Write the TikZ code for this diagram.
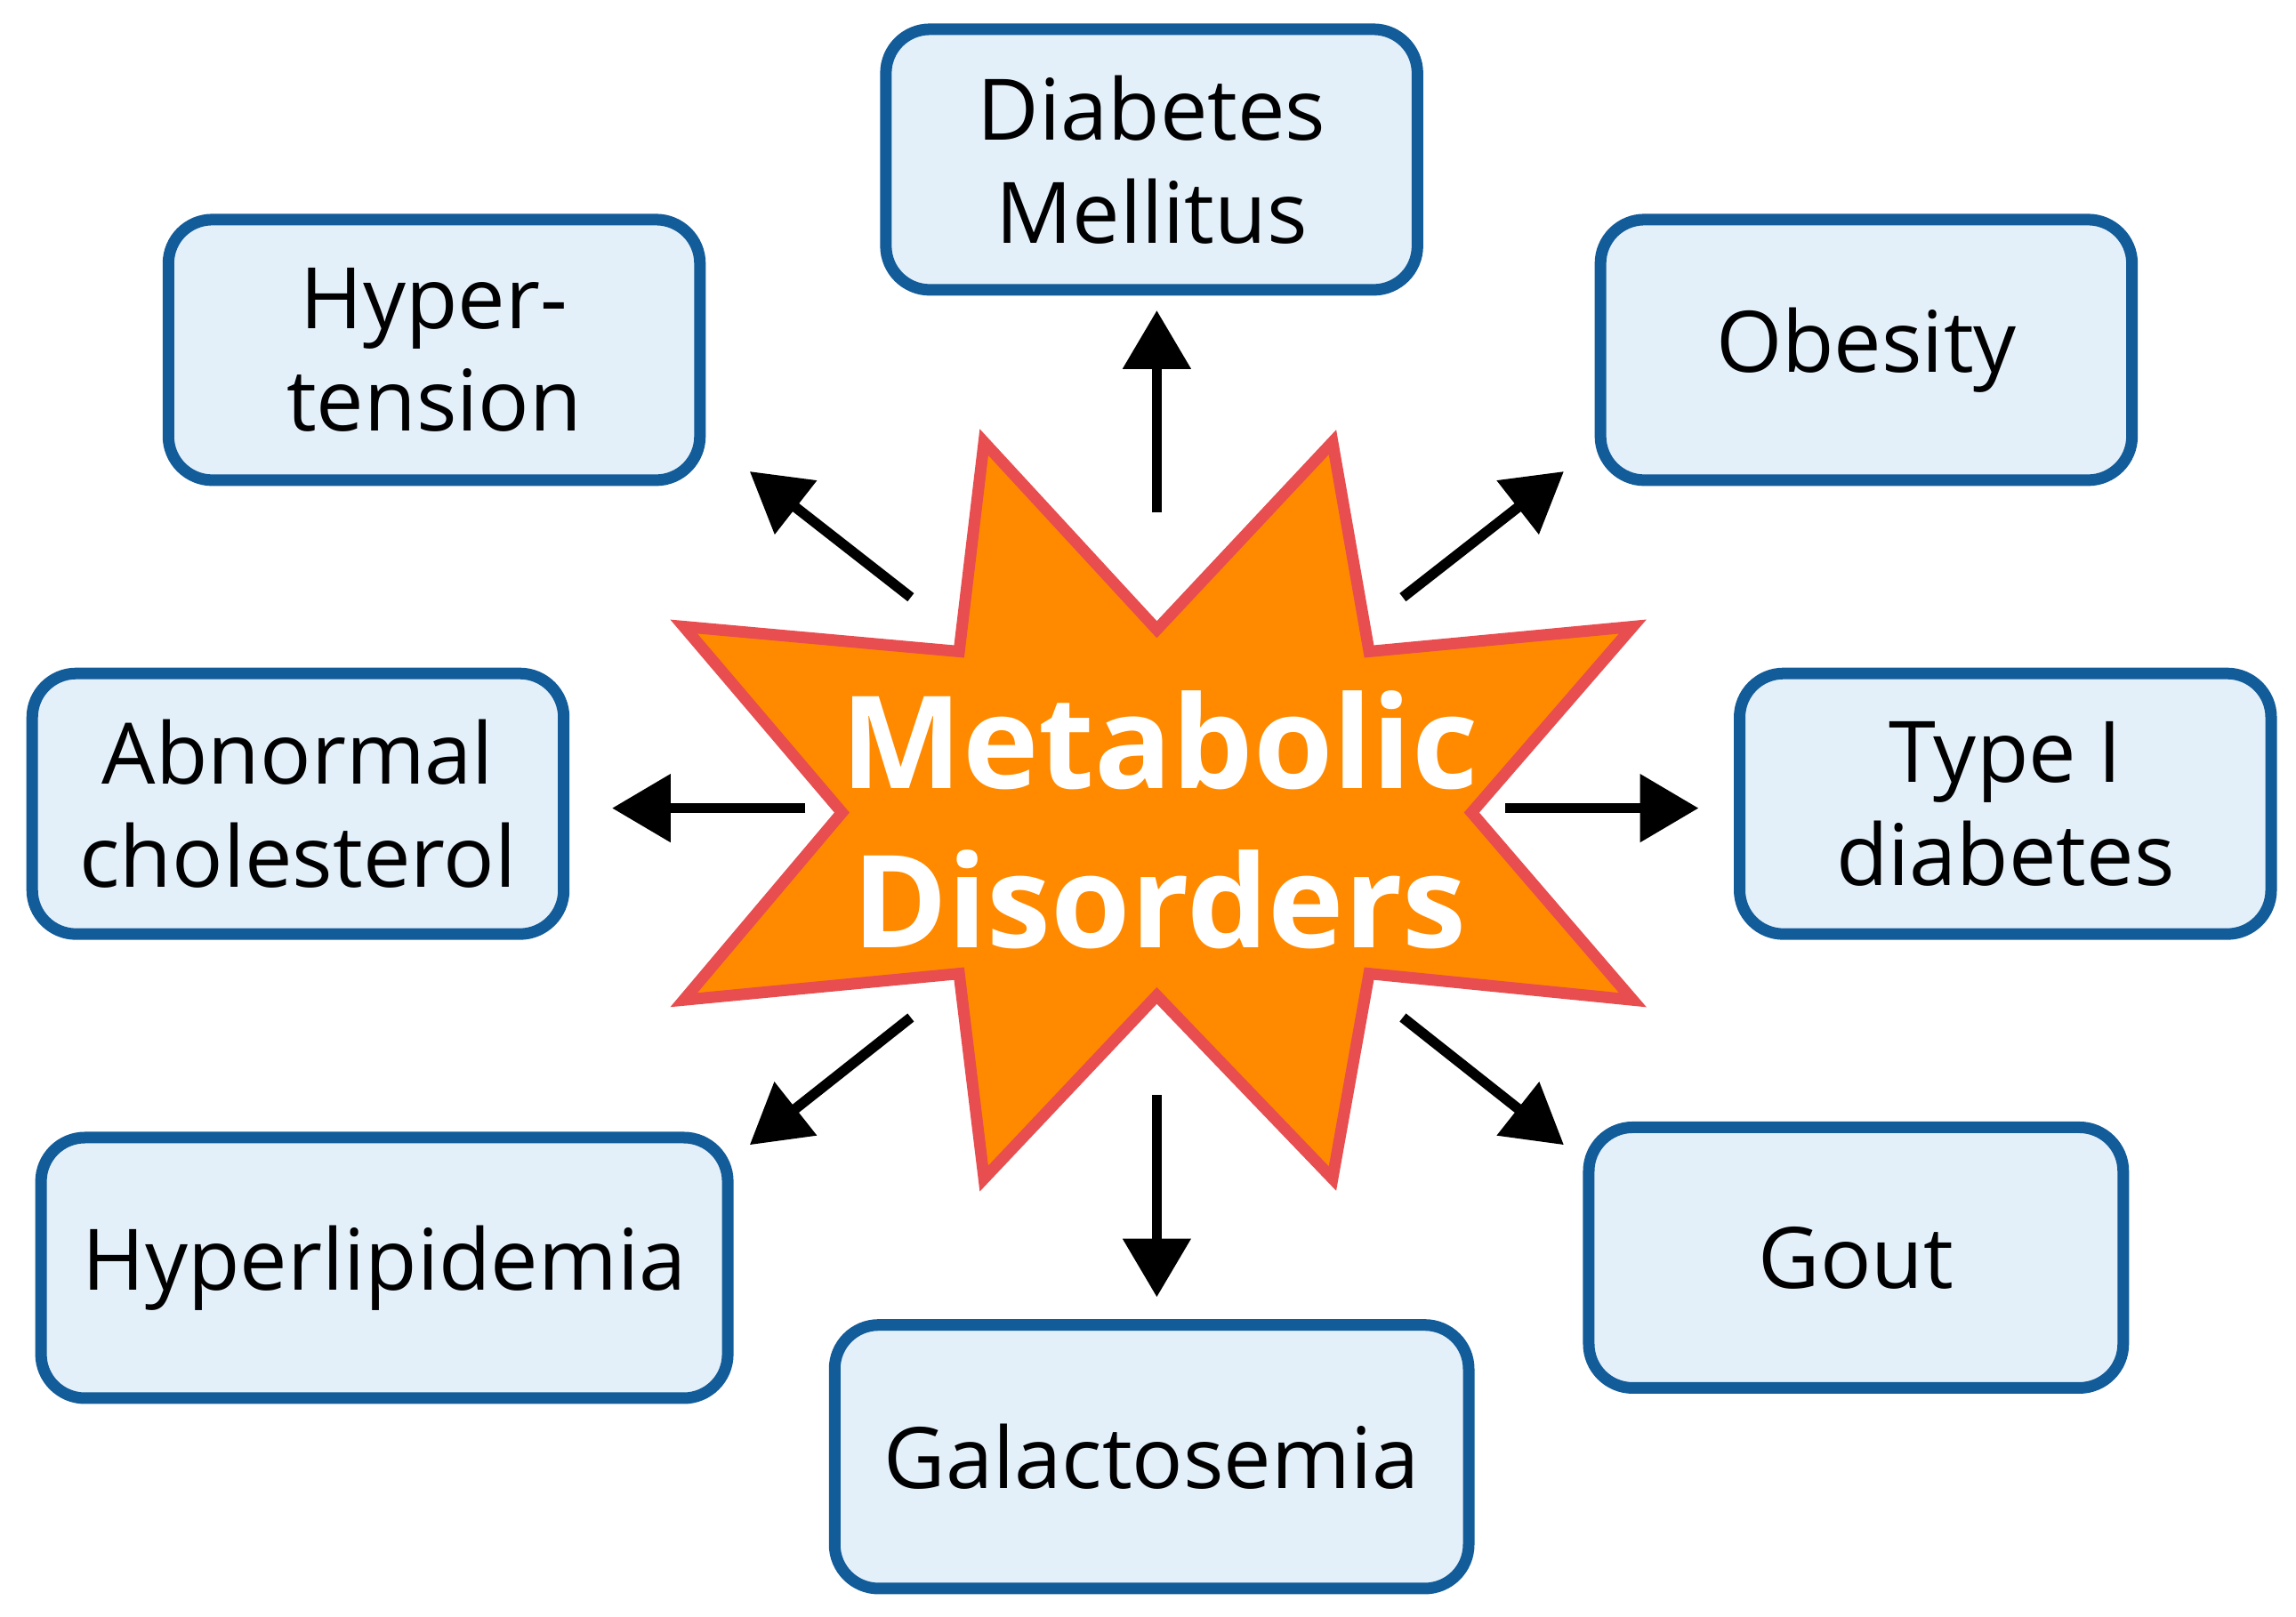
\documentclass[tikz,border=0pt]{standalone}
\usepackage{fontspec}
\setmainfont{Open Sans}
\usetikzlibrary{arrows.meta}
\definecolor{boxfill}{HTML}{E3F0FA}
\definecolor{boxline}{HTML}{135C9A}
\definecolor{starfill}{HTML}{FF8A00}
\definecolor{starline}{HTML}{E84E50}
\begin{document}
\begin{tikzpicture}[x=0.02cm,y=-0.02cm,
  box/.style={draw=boxline,fill=boxfill,line width=4.5pt,rounded corners=0.6cm,
    inner sep=0pt,align=center,font=\fontsize{33}{40}\selectfont},
  arr/.style={line width=4pt,-{Triangle[length=0.8cm,width=0.9cm]}}]
\useasboundingbox (0,0) rectangle (1568,1104);
\node[box,minimum width=363*0.02cm,minimum height=178*0.02cm] (dm) at (786.5,109) {Diabetes\\Mellitus};
\node[box,minimum width=363*0.02cm,minimum height=178*0.02cm] (ht) at (296.5,239) {Hyper-\\tension};
\node[box,minimum width=363*0.02cm,minimum height=178*0.02cm] (ob) at (1274.5,239) {Obesity};
\node[box,minimum width=363*0.02cm,minimum height=178*0.02cm] (ac) at (203.5,549) {Abnormal\\cholesterol};
\node[box,minimum width=363*0.02cm,minimum height=178*0.02cm] (t1) at (1369.5,549) {Type I\\diabetes};
\node[box,minimum width=469*0.02cm,minimum height=178*0.02cm] (hl) at (262.5,866) {Hyperlipidemia};
\node[box,minimum width=365*0.02cm,minimum height=178*0.02cm] (go) at (1267.5,859) {Gout};
\node[box,minimum width=433*0.02cm,minimum height=180*0.02cm] (ga) at (786.5,995) {Galactosemia};
\draw[starline,fill=starfill,line width=4.5pt,line join=miter]
 (672,302)--(790,430)--(910,302)--(935,445)--(1115,428)--(1005,555)--(1115,683)--(935,665)
 --(910,805)--(790,680)--(672,805)--(655,665)--(467,683)--(575,555)--(467,428)--(655,445)--cycle;
\node[text=white,font=\fontsize{50}{62}\selectfont\bfseries,align=center] (md) at (792,560) {Metabolic\\Disorders};
\coordinate (u0) at (790,350); \coordinate (u1) at (790,212);
\coordinate (d0) at (790,748); \coordinate (d1) at (790,886);
\coordinate (l0) at (550,552); \coordinate (l1) at (418,552);
\coordinate (r0) at (1028,552); \coordinate (r1) at (1160,552);
\coordinate (a0) at (622,408); \coordinate (a1) at (512,322);
\coordinate (b0) at (958,408); \coordinate (b1) at (1068,322);
\coordinate (c0) at (622,695); \coordinate (c1) at (512,782);
\coordinate (e0) at (958,695); \coordinate (e1) at (1068,782);
\foreach \p in {u,d,l,r,a,b,c,e} \draw[arr] (\p0)--(\p1);
\end{tikzpicture}
\end{document}
